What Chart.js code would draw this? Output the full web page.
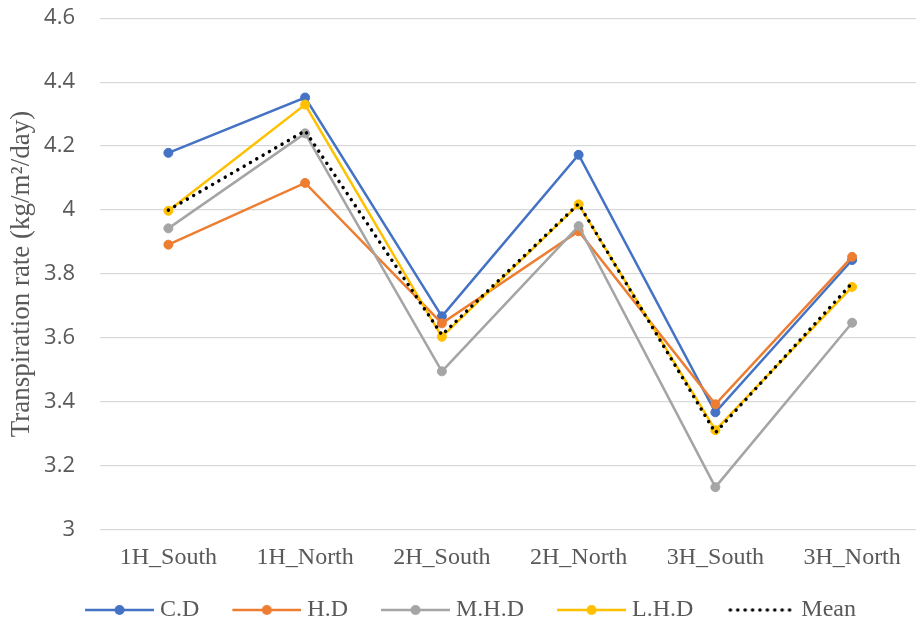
<!DOCTYPE html>
<html>
<head>
<meta charset="utf-8">
<script src="https://cdn.jsdelivr.net/npm/chart.js@4"></script>
<style>
  html, body { margin: 0; padding: 0; background: #ffffff; overflow: hidden; }
  #wrap { position: relative; width: 926px; height: 632px; }
</style>
</head>
<body>
<div id="wrap"><canvas id="chart" width="926" height="632"></canvas></div>
<script>
// Transpiration rate per location, one series per treatment plus the mean
const CATEGORIES = ['1H_South', '1H_North', '2H_South', '2H_North', '3H_South', '3H_North'];
const CD   = [4.179, 4.352, 3.668, 4.173, 3.368, 3.844];
const HD   = [3.892, 4.085, 3.646, 3.934, 3.393, 3.854];
const MHD  = [3.943, 4.240, 3.496, 3.950, 3.134, 3.648];
const LHD  = [3.998, 4.330, 3.604, 4.018, 3.312, 3.760];
const MEAN = [4.000, 4.248, 3.610, 4.020, 3.304, 3.772];
const Y_TICKS = [3, 3.2, 3.4, 3.6, 3.8, 4, 4.2, 4.4, 4.6];

const TEXT_COLOR = '#595959';
const SERIF = "'Liberation Serif', 'Times New Roman', serif";
const SANS = "'Open Sans', sans-serif";

// Legend swatch geometry: the marker box is SW_BOX wide, the drawn sample is
// SW_LINE long and ends just before the label text.
const SW_BOX = 76;
const SW_LINE = 69;
const SW_W = SW_BOX + 12;

function swatch(color, dotted) {
  const c = document.createElement('canvas');
  c.width = SW_W; c.height = 12;
  const g = c.getContext('2d');
  const x0 = SW_W - SW_LINE;
  if (dotted) {
    g.fillStyle = '#000000';
    for (let x = x0 + 4; x <= SW_W - 3; x += 7.4) {
      g.beginPath(); g.arc(x, 6, 1.8, 0, Math.PI * 2); g.fill();
    }
  } else {
    g.strokeStyle = color; g.lineWidth = 2.5;
    g.beginPath(); g.moveTo(x0, 6); g.lineTo(SW_W, 6); g.stroke();
    g.fillStyle = color;
    g.beginPath(); g.arc(x0 + SW_LINE / 2, 6, 5, 0, Math.PI * 2); g.fill();
  }
  return c;
}

function series(label, data, color, order) {
  return {
    label, data, order,
    borderColor: color, backgroundColor: color,
    borderWidth: 2.5,
    pointRadius: 4.5, pointHoverRadius: 4.5,
    pointBackgroundColor: color, pointBorderColor: color, pointBorderWidth: 1,
    tension: 0, fill: false,
    legendSwatch: swatch(color, false)
  };
}

const datasets = [
  series('C.D', CD, '#4472C4', 5),
  series('H.D', HD, '#ED7D31', 4),
  series('M.H.D', MHD, '#A5A5A5', 3),
  series('L.H.D', LHD, '#FFC000', 2),
  {
    label: 'Mean', data: MEAN, order: 1,
    borderColor: '#000000', backgroundColor: '#000000',
    borderWidth: 3.5, borderDash: [0.001, 7.3], borderCapStyle: 'round',
    pointRadius: 0, pointHoverRadius: 0, tension: 0, fill: false,
    legendSwatch: swatch('#000000', true)
  }
];

new Chart(document.getElementById('chart'), {
  type: 'line',
  data: { labels: CATEGORIES, datasets },
  options: {
    responsive: false,
    animation: false,
    layout: { padding: { left: 2, right: 0, top: 18, bottom: 0 } },
    scales: {
      x: {
        offset: true,
        grid: { display: false, drawTicks: false },
        border: { display: false },
        ticks: { color: TEXT_COLOR, font: { family: SERIF, size: 24 }, padding: 13.6, maxRotation: 0 },
        afterFit: s => { s.height = 48; }
      },
      y: {
        min: 3, max: 4.6,
        grid: { color: '#d9d9d9', lineWidth: 1.3, drawTicks: true, tickLength: 20, tickColor: 'rgba(0,0,0,0)' },
        border: { display: false },
        afterBuildTicks: s => { s.ticks = Y_TICKS.map(v => ({ value: v })); },
        ticks: { color: TEXT_COLOR, font: { family: SANS, size: 22 }, padding: 5, callback: v => String(v) },
        title: {
          display: true,
          text: 'Transpiration rate (kg/m²/day)',
          color: TEXT_COLOR,
          font: { family: SERIF, size: 27 },
          padding: { top: 4, bottom: 0 }
        },
        afterFit: s => { s.width = 98; }
      }
    },
    plugins: {
      tooltip: { enabled: false },
      legend: {
        position: 'bottom',
        labels: {
          usePointStyle: true,
          pointStyleWidth: SW_BOX,
          padding: 20,
          color: TEXT_COLOR,
          font: { family: SERIF, size: 24 },
          sort: (a, b) => a.datasetIndex - b.datasetIndex,
          generateLabels: chart => {
            const items = Chart.defaults.plugins.legend.labels.generateLabels(chart);
            items.forEach(it => { it.pointStyle = chart.data.datasets[it.datasetIndex].legendSwatch; });
            return items;
          }
        }
      }
    }
  }
});
</script>
</body>
</html>
